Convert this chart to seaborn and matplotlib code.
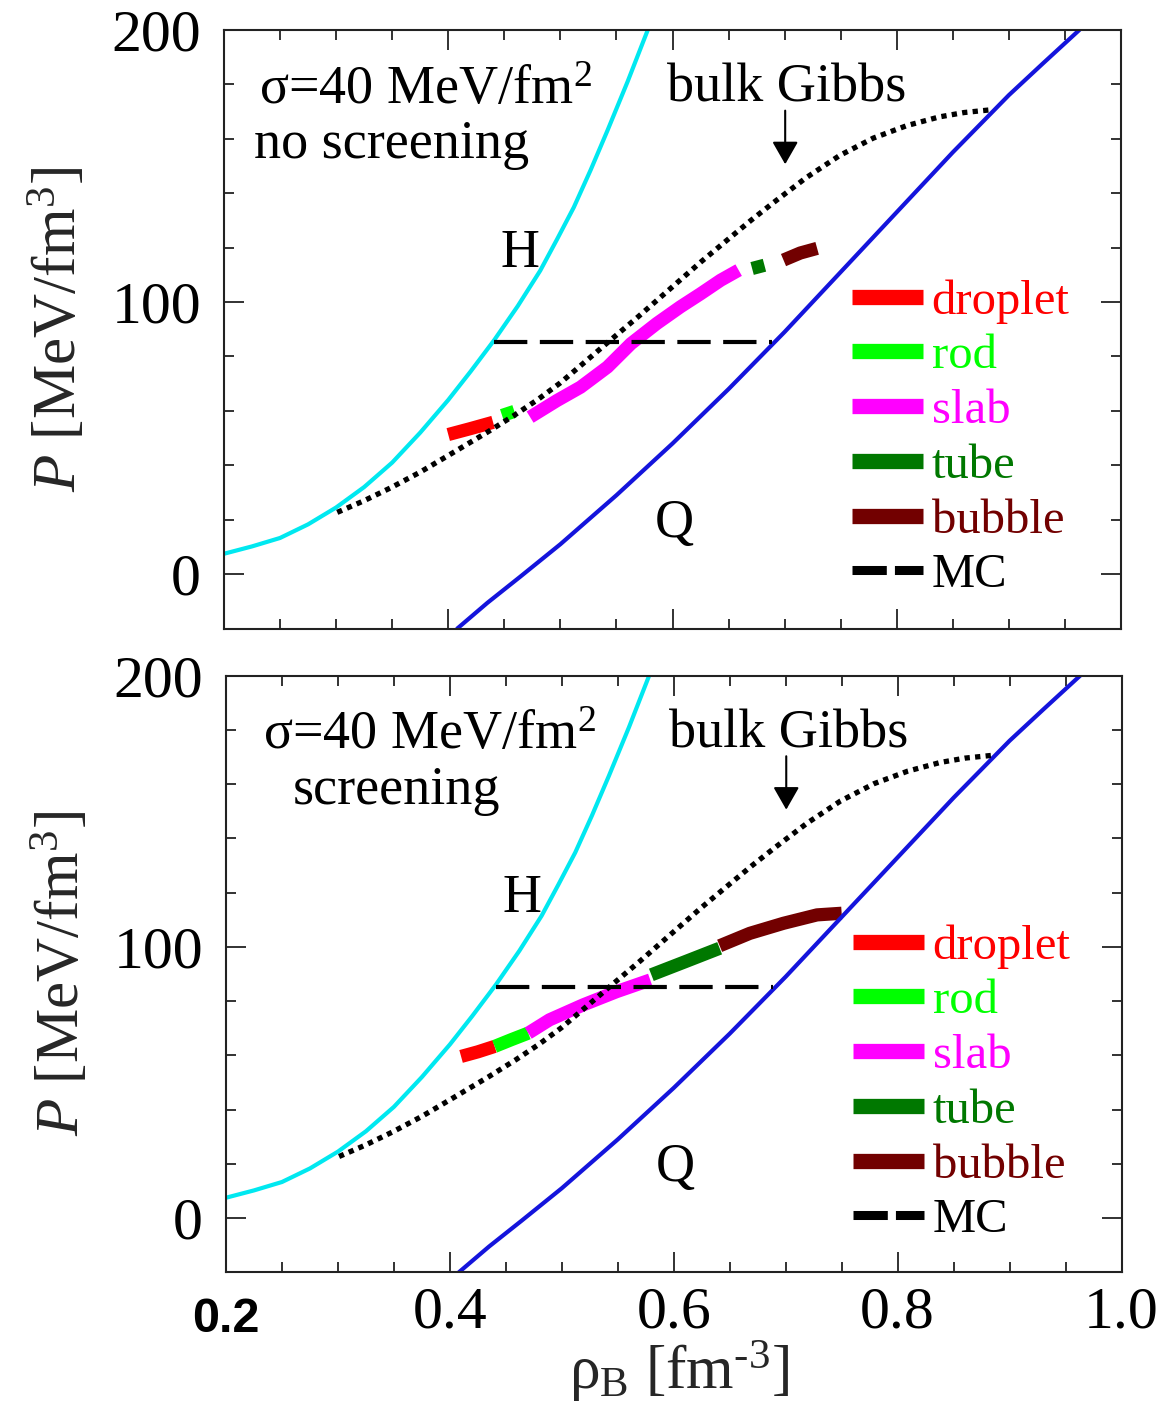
import matplotlib
matplotlib.use("Agg")
import matplotlib.pyplot as plt
import matplotlib.transforms as mtransforms
from matplotlib.ticker import FixedLocator, MultipleLocator
import seaborn as sns

# Pure-phase pressure curves: hadron (H) and quark (Q) matter
rho_H = [0.200, 0.225, 0.250, 0.275, 0.300, 0.325, 0.350, 0.375, 0.400, 0.420,
         0.441, 0.462, 0.482, 0.497, 0.512, 0.527, 0.542, 0.560, 0.578]
P_H = [7.5, 10.2, 13.3, 18.3, 24.5, 32.0, 41.0, 52.0, 64.0, 74.5,
       86.0, 98.5, 111.5, 123.0, 134.8, 148.5, 163.0, 181.0, 200.0]

rho_Q = [0.408, 0.435, 0.464, 0.500, 0.550, 0.600, 0.650, 0.700, 0.750,
         0.800, 0.850, 0.900, 0.930, 0.963]
P_Q = [-20.0, -10.5, -1.0, 11.0, 29.0, 48.0, 68.0, 89.0, 111.0,
       133.0, 155.0, 176.0, 187.5, 200.0]

# Bulk Gibbs mixed phase
rho_gibbs = [0.301, 0.325, 0.349, 0.375, 0.400, 0.435, 0.459, 0.480, 0.500, 0.520,
             0.543, 0.570, 0.600, 0.625, 0.648, 0.670, 0.690, 0.719, 0.749,
             0.779, 0.809, 0.838, 0.860, 0.886]
P_gibbs = [22.7, 27.0, 31.8, 37.5, 43.6, 52.2, 58.4, 64.2, 70.3, 77.3,
           85.4, 94.8, 105.6, 114.6, 122.5, 130.0, 136.5, 145.6, 153.8,
           160.2, 164.8, 168.0, 169.6, 170.7]

# Maxwell construction
rho_MC = [0.441, 0.689]
P_MC = [85.3, 85.3]

# Pasta structures, no screening
rho_droplet_ns = [0.400, 0.420, 0.440]
P_droplet_ns = [51.3, 53.5, 55.8]
rho_rod_ns = [0.448, 0.459]
P_rod_ns = [58.3, 59.8]
rho_slab_ns = [0.473, 0.497, 0.518, 0.542, 0.563, 0.586, 0.607, 0.625, 0.643, 0.659]
P_slab_ns = [57.7, 63.8, 68.7, 76.1, 84.7, 92.1, 98.2, 103.0, 108.0, 111.7]
rho_tube_ns = [0.671, 0.682]
P_tube_ns = [112.3, 113.5]
rho_bubble_ns = [0.699, 0.714, 0.729]
P_bubble_ns = [115.4, 118.0, 119.7]

# Pasta structures, with screening
rho_droplet_sc = [0.410, 0.425, 0.440]
P_droplet_sc = [59.6, 61.3, 63.3]
rho_rod_sc = [0.440, 0.455, 0.470]
P_rod_sc = [63.3, 65.8, 68.2]
rho_slab_sc = [0.470, 0.489, 0.519, 0.549, 0.579]
P_slab_sc = [68.2, 73.1, 78.6, 83.5, 87.8]
rho_tube_sc = [0.580, 0.610, 0.641]
P_tube_sc = [89.7, 94.5, 99.5]
rho_bubble_sc = [0.641, 0.668, 0.698, 0.728, 0.750]
P_bubble_sc = [100.4, 105.0, 108.7, 111.8, 112.4]

x_ticks = [0.2, 0.4, 0.6, 0.8, 1.0]
x_ticklabels = ["0.2", "0.4", "0.6", "0.8", "1.0"]
y_ticks = [0, 100, 200]
y_ticklabels = ["0", "100", "200"]

pasta_names = ["droplet", "rod", "slab", "tube", "bubble"]
pasta_colors = {"droplet": "#FF0000", "rod": "#00FF00", "slab": "#FF00FF",
                "tube": "#007800", "bubble": "#720000"}

panels = [
    {"subtitle": "no screening", "sub_x": 0.227, "sigma_x": 0.231,
     "pasta": {"droplet": (rho_droplet_ns, P_droplet_ns), "rod": (rho_rod_ns, P_rod_ns),
               "slab": (rho_slab_ns, P_slab_ns), "tube": (rho_tube_ns, P_tube_ns),
               "bubble": (rho_bubble_ns, P_bubble_ns)},
     "rect": [224 / 1159, 1 - 628.6 / 1407, (1121 - 224) / 1159, (628.6 - 29.8) / 1407]},
    {"subtitle": "screening", "sub_x": 0.260, "sigma_x": 0.233,
     "pasta": {"droplet": (rho_droplet_sc, P_droplet_sc), "rod": (rho_rod_sc, P_rod_sc),
               "slab": (rho_slab_sc, P_slab_sc), "tube": (rho_tube_sc, P_tube_sc),
               "bubble": (rho_bubble_sc, P_bubble_sc)},
     "rect": [226 / 1159, 1 - 1272.3 / 1407, (1121.5 - 226) / 1159, (1272.3 - 675.7) / 1407]},
]

sns.set_theme(style="ticks")
plt.rcParams.update({
    "font.family": ["Liberation Serif", "DejaVu Serif"],
    "mathtext.fontset": "custom",
    "mathtext.rm": "Liberation Serif",
    "mathtext.it": "Liberation Serif:italic",
    "mathtext.bf": "Liberation Serif:bold",
    "axes.edgecolor": "#222222",
    "axes.linewidth": 1.5,
    "axes.facecolor": "white",
    "text.color": "black",
    "xtick.color": "#222222",
    "ytick.color": "#222222",
    "xtick.labelcolor": "black",
    "ytick.labelcolor": "black",
})

fig = plt.figure(figsize=(11.59, 14.07), dpi=100)

for i, pnl in enumerate(panels):
    ax = fig.add_axes(pnl["rect"])

    # pasta segments (thick)
    for name in pasta_names:
        xs, ys = pnl["pasta"][name]
        sns.lineplot(x=xs, y=ys, ax=ax, color=pasta_colors[name], lw=9.5,
                     sort=False, estimator=None, label=name,
                     solid_capstyle="butt", solid_joinstyle="round", zorder=2)

    sns.lineplot(x=rho_H, y=P_H, ax=ax, color="#00E8F0", lw=3.0,
                 sort=False, estimator=None, zorder=2.5)
    sns.lineplot(x=rho_Q, y=P_Q, ax=ax, color="#1414DC", lw=3.0,
                 sort=False, estimator=None, zorder=2.5)
    sns.lineplot(x=rho_gibbs, y=P_gibbs, ax=ax, color="black", lw=3.8,
                 linestyle=(0, (1, 1)), sort=False, estimator=None, zorder=3)
    sns.lineplot(x=rho_MC, y=P_MC, ax=ax, color="black", lw=3.0,
                 linestyle=(0, (8, 3)), sort=False, estimator=None,
                 label="MC", zorder=3)

    ax.set_xlim(0.2, 1.0)
    ax.set_ylim(-20, 200)

    ax.xaxis.set_major_locator(FixedLocator(x_ticks))
    ax.xaxis.set_minor_locator(MultipleLocator(0.05))
    ax.yaxis.set_major_locator(FixedLocator(y_ticks))
    ax.yaxis.set_minor_locator(MultipleLocator(20))
    ax.set_xticklabels(x_ticklabels)
    ax.set_yticklabels(y_ticklabels)
    ax.tick_params(which="both", direction="in", top=True, right=True,
                   width=1.3, labelsize=43)
    ax.tick_params(which="major", length=14.4)
    ax.tick_params(which="minor", length=7.2)
    ax.tick_params(axis="y", pad=16.5)
    ax.tick_params(axis="x", pad=10.5)

    ax.set_ylabel("$P$ [MeV/fm$^3$]", fontsize=44)
    ax.yaxis.set_label_coords(-0.150, 0.5)

    if i == 0:
        ax.tick_params(labelbottom=False)
        ax.set_xlabel("")
    else:
        ax.set_xlabel(r"ρ$_\mathrm{B}$ [fm$^{\text{-3}}$]", fontsize=44)
        ax.xaxis.set_label_coords(0.506, -0.112)
        ticks = ax.xaxis.get_major_ticks()
        first = ticks[0].label1
        first.set_fontfamily("Liberation Sans")
        first.set_fontweight("bold")
        first.set_fontsize(35)
        first.set_transform(first.get_transform() + mtransforms.ScaledTranslation(
            0, -7 / 72, fig.dpi_scale_trans))

    # annotations
    ax.text(pnl["sigma_x"], 172.8, "σ=40 MeV/fm$^2$", fontsize=39,
            ha="left", va="baseline")
    ax.text(pnl["sub_x"], 152.8, pnl["subtitle"], fontsize=39,
            ha="left", va="baseline")
    ax.text(0.447, 113.0, "H", fontsize=39, ha="left", va="baseline")
    ax.text(0.584, 13.8, "Q", fontsize=39, ha="left", va="baseline")
    ax.text(0.5955, 173.6, "bulk Gibbs", fontsize=39, ha="left", va="baseline")
    ax.annotate("", xy=(0.7005, 150.6), xytext=(0.7005, 170.3),
                arrowprops=dict(arrowstyle="-|>,head_length=0.7,head_width=0.4",
                                color="black", lw=1.5, mutation_scale=20,
                                shrinkA=0, shrinkB=0))

    # legend
    by_label = {ln.get_label(): ln for ln in ax.get_lines()}
    order = pasta_names + ["MC"]
    leg = ax.legend([by_label[k] for k in order], order, loc="upper left",
                    bbox_to_anchor=(0.700, 0.5835), frameon=False, fontsize=35,
                    handlelength=1.47, handletextpad=0.17, labelspacing=0.22,
                    borderpad=0, borderaxespad=0, labelcolor="linecolor")
    for name, ln in zip(order, leg.get_lines()):
        if name == "MC":
            ln.set_linewidth(6.5)
            ln.set_dashes([3.8, 0.9])
        else:
            ln.set_linewidth(11)
            ln.set_solid_capstyle("butt")

fig.savefig("out.png", dpi=100)
